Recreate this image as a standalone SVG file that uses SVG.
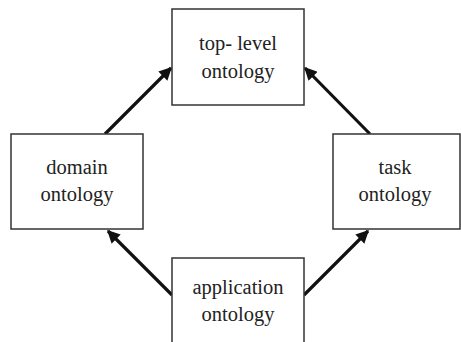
<svg xmlns="http://www.w3.org/2000/svg" width="461" height="342" viewBox="0 0 461 342">
<defs>
<style>
.box{fill:#fff;stroke:#333;stroke-width:1.5}
.lbl{font-size:20.5px;fill:#222;text-anchor:middle}
.arr{stroke:#111;stroke-width:3.2;fill:none;marker-end:url(#ah)}
</style>
<marker id="ah" viewBox="0 0 10 10" refX="9" refY="5" markerWidth="5.2" markerHeight="4" orient="auto" markerUnits="strokeWidth">
<path d="M0,0 L10,5 L0,10 Z" fill="#111"/>
</marker>
</defs>
<rect width="461" height="342" fill="#fff"/>
<g id="connectors">
<line class="arr" x1="105" y1="134" x2="171" y2="68"/>
<line class="arr" x1="370" y1="134" x2="305" y2="68"/>
<line class="arr" x1="172" y1="295" x2="108" y2="231"/>
<line class="arr" x1="304" y1="295" x2="368" y2="231"/>
</g>
<g id="top-level">
<rect class="box" x="172" y="9" width="132" height="96"/>
<text class="lbl" font-family="Liberation Serif" x="238" y="50">top- level</text>
<text class="lbl" font-family="Liberation Serif" x="238" y="78">ontology</text>
</g>
<g id="domain">
<rect class="box" x="11" y="134" width="132" height="95"/>
<text class="lbl" font-family="Liberation Serif" x="77" y="174">domain</text>
<text class="lbl" font-family="Liberation Serif" x="77" y="201">ontology</text>
</g>
<g id="task">
<rect class="box" x="333" y="134" width="127" height="95"/>
<text class="lbl" font-family="Liberation Serif" x="395" y="174">task</text>
<text class="lbl" font-family="Liberation Serif" x="395" y="201">ontology</text>
</g>
<g id="application">
<rect class="box" x="172" y="258" width="132" height="100"/>
<text class="lbl" font-family="Liberation Serif" x="238" y="294">application</text>
<text class="lbl" font-family="Liberation Serif" x="238" y="321">ontology</text>
</g>
</svg>
